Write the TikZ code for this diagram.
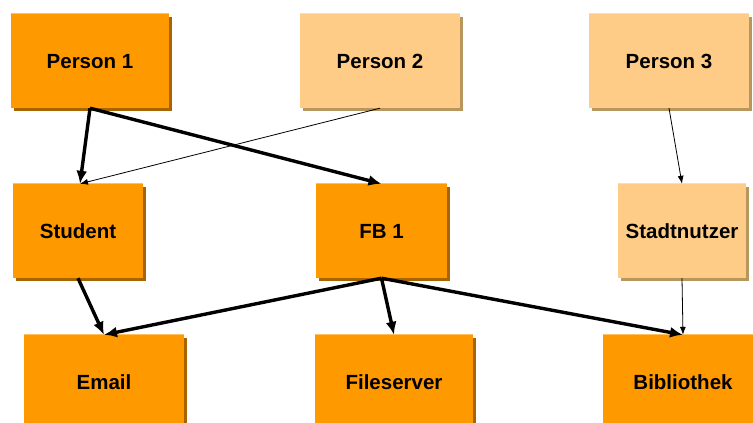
\documentclass[tikz,border=0pt]{standalone}
\usepackage{fontspec}
\setmainfont{Liberation Sans}
\usetikzlibrary{arrows.meta}
\definecolor{boxdark}{HTML}{FF9900}
\definecolor{boxlight}{HTML}{FFCC88}
\definecolor{shadedark}{HTML}{A86400}
\definecolor{shadelight}{HTML}{B8975E}
\definecolor{edgedark}{HTML}{FFC060}
\definecolor{edgelight}{HTML}{FFDDA8}
\tikzset{
  role/.style={minimum height=94pt, inner sep=0pt, text depth=0pt, font=\fontsize{20.5}{24}\selectfont\bfseries},
  darkbox/.style={role, fill=boxdark},
  lightbox/.style={role, fill=boxlight},
  heavy/.style={line width=3.4pt, -{Latex[length=13pt,width=11pt]}},
  light/.style={line width=0.8pt, -{Latex[length=8pt,width=6pt]}},
}
\begin{document}
\begin{tikzpicture}[x=1pt,y=-1pt]
\useasboundingbox[fill=white] (0,0) rectangle (753,423);
% drop shadows behind the boxes
\foreach \l/\t/\r/\b/\c in {11/14/169/108/shadedark, 300/14/460/108/shadelight, 589/14/749/108/shadelight,
  13/184/143/278/shadedark, 316/184/447/278/shadedark, 618/184/746/278/shadelight,
  24/335/184/429/shadedark, 315/335/473/429/shadedark, 603/335/763/429/shadedark}
  \fill[\c] (\l+3,\t+3) rectangle (\r+3,\b+3);
% people
\node[darkbox, minimum width=158pt] (p1) at (90,61) {Person 1};
\node[lightbox, minimum width=160pt] (p2) at (380,61) {Person 2};
\node[lightbox, minimum width=160pt] (p3) at (669,61) {Person 3};
% roles
\node[darkbox, minimum width=130pt] (stud) at (78,231) {Student};
\node[darkbox, minimum width=131pt] (fb) at (381.5,231) {FB 1};
\node[lightbox, minimum width=128pt] (stadt) at (682,231) {Stadtnutzer};
% services
\node[darkbox, minimum width=160pt] (mail) at (104,382) {Email};
\node[darkbox, minimum width=158pt] (files) at (394,382) {Fileserver};
\node[darkbox, minimum width=160pt] (lib) at (683,382) {Bibliothek};
% light top edges
\foreach \n in {p1,stud,fb,mail,files,lib}
  \draw[line width=1.2pt, draw=edgedark] (\n.north west) -- (\n.north east);
\foreach \n in {p2,p3,stadt}
  \draw[line width=1.2pt, draw=edgelight] (\n.north west) -- (\n.north east);
% assignments
\draw[light] (p2.south) -- ([xshift=2pt]stud.north);
\draw[light] (p3.south) -- (stadt.north);
\draw[light] (stadt.south) -- (lib.north);
\draw[heavy] (p1.south) -- ([xshift=2pt]stud.north);
\draw[heavy] (p1.south) -- (fb.north);
\draw[heavy] (stud.south) -- (mail.north);
\draw[heavy] (fb.south) -- (mail.north);
\draw[heavy] (fb.south) -- (files.north);
\draw[heavy] (fb.south) -- (lib.north);
\end{tikzpicture}
\end{document}
